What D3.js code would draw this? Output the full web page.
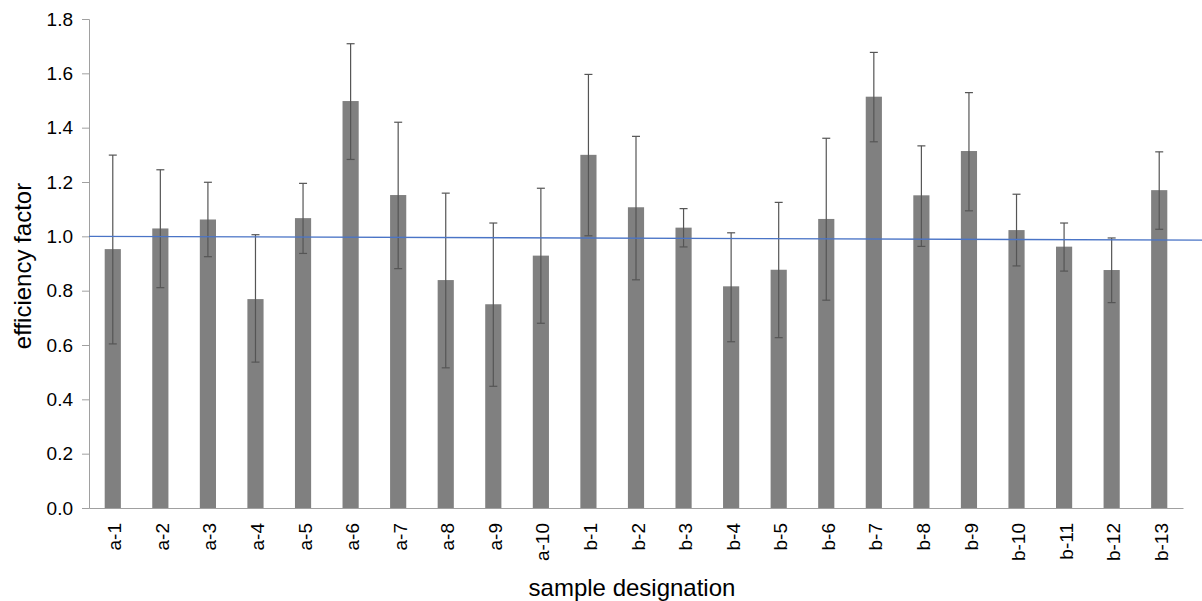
<!doctype html>
<html>
<head>
<script src="https://d3js.org/d3.v7.min.js"></script>
<style>
  body { margin: 0; background: #fff; }
  text { font-family: "Liberation Sans", Arial, sans-serif; fill: #000; }
</style>
</head>
<body>
<svg width="1202" height="601"></svg>
<script>
// data
var samples = ["a-1","a-2","a-3","a-4","a-5","a-6","a-7","a-8","a-9","a-10",
               "b-1","b-2","b-3","b-4","b-5","b-6","b-7","b-8","b-9","b-10","b-11","b-12","b-13"];
var means   = [0.953,1.029,1.062,0.769,1.067,1.498,1.152,0.839,0.750,0.929,
               1.300,1.107,1.032,0.816,0.877,1.064,1.514,1.151,1.314,1.023,0.962,0.876,1.170];
var errHigh = [1.299,1.245,1.199,1.006,1.195,1.709,1.420,1.159,1.049,1.177,
               1.596,1.368,1.102,1.013,1.125,1.361,1.677,1.333,1.529,1.155,1.049,0.994,1.311];
var errLow  = [0.604,0.811,0.925,0.537,0.937,1.283,0.881,0.516,0.448,0.680,
               1.002,0.840,0.961,0.612,0.627,0.765,1.348,0.963,1.094,0.891,0.872,0.756,1.026];
var trendLine = [1.000, 0.986];   // start / end of the blue trend line
var yTicks = [0, 0.2, 0.4, 0.6, 0.8, 1.0, 1.2, 1.4, 1.6, 1.8];

var svg = d3.select("svg"),
    margin = {top: 19, right: 19, bottom: 93, left: 89},
    width = +svg.attr("width") - margin.left - margin.right,
    height = +svg.attr("height") - margin.top - margin.bottom;

var x = d3.scaleBand().domain(samples).range([0, width]).paddingInner(0.66).paddingOuter(0.33);
var y = d3.scaleLinear().domain([0, 1.8]).range([height, 0]);

var g = svg.append("g").attr("transform", "translate(" + margin.left + "," + margin.top + ")");

var rows = samples.map(function(s, i) {
  return {name: s, v: means[i], hi: errHigh[i], lo: errLow[i]};
});

// bars
g.append("g").selectAll("rect")
  .data(rows).enter().append("rect")
  .attr("x", d => x(d.name))
  .attr("width", x.bandwidth())
  .attr("y", d => y(d.v))
  .attr("height", d => y(0) - y(d.v))
  .attr("fill", "#808080");

// y axis
var yAxis = g.append("g")
  .call(d3.axisLeft(y).tickValues(yTicks).tickFormat(d3.format(".1f")).tickSize(7).tickPadding(9));
yAxis.selectAll("path, line").attr("stroke", "#a0a0a0");
yAxis.selectAll("text").style("font-size", "19px").style("font-family", "Liberation Sans, Arial, sans-serif").attr("fill", "#000");

// x axis
var xAxis = g.append("g")
  .attr("transform", "translate(0," + height + ")")
  .call(d3.axisBottom(x).tickSize(0).tickSizeOuter(0).tickPadding(0));
xAxis.select("path").attr("stroke", "#a0a0a0");
xAxis.selectAll("text")
  .style("font-size", "19px")
  .style("font-family", "Liberation Sans, Arial, sans-serif")
  .attr("fill", "#000")
  .attr("text-anchor", "end")
  .attr("transform", "translate(0,15) rotate(-90)")
  .attr("x", 0).attr("y", 0).attr("dy", "0.45em");

// error bars
var eb = g.append("g").attr("stroke", "#555").attr("stroke-width", 1.2);
var cap = 4;
rows.forEach(function(d) {
  var cx = x(d.name) + x.bandwidth() / 2;
  eb.append("line").attr("x1", cx).attr("x2", cx).attr("y1", y(d.hi)).attr("y2", y(d.lo));
  eb.append("line").attr("x1", cx - cap).attr("x2", cx + cap).attr("y1", y(d.hi)).attr("y2", y(d.hi));
  eb.append("line").attr("x1", cx - cap).attr("x2", cx + cap).attr("y1", y(d.lo)).attr("y2", y(d.lo));
});

// trend line, runs to the right edge of the picture
g.append("line")
  .attr("x1", 0).attr("x2", width + margin.right)
  .attr("y1", y(trendLine[0])).attr("y2", y(trendLine[1]))
  .attr("stroke", "#4a74c6").attr("stroke-width", 1.3);

// axis titles
svg.append("text")
  .attr("text-anchor", "middle")
  .attr("transform", "translate(31,266) rotate(-90)")
  .style("font-size", "24px")
  .text("efficiency factor");

svg.append("text")
  .attr("text-anchor", "middle")
  .attr("x", 632).attr("y", 596)
  .style("font-size", "24px")
  .text("sample designation");
</script>
</body>
</html>
